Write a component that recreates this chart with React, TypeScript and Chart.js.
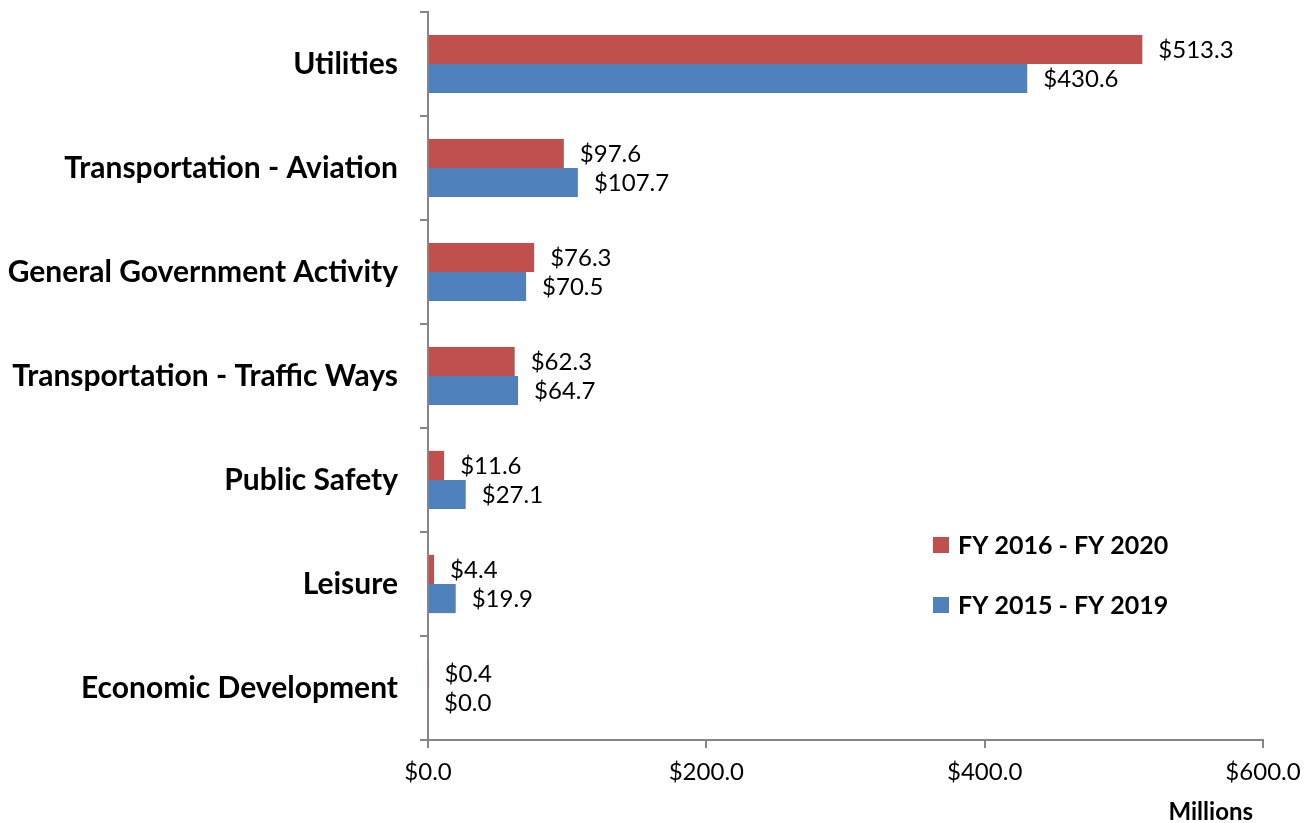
import React, { useEffect, useRef } from "react";
import { Chart, registerables } from "chart.js";

Chart.register(...registerables);

const categories = [
  "Utilities",
  "Transportation - Aviation",
  "General Government Activity",
  "Transportation - Traffic Ways",
  "Public Safety",
  "Leisure",
  "Economic Development",
];
const seriesLabels = ["FY 2016 - FY 2020", "FY 2015 - FY 2019"];
const fy2016_2020 = [513.3, 97.6, 76.3, 62.3, 11.6, 4.4, 0.4];
const fy2015_2019 = [430.6, 107.7, 70.5, 64.7, 27.1, 19.9, 0.0];
const xTicks = [0, 200, 400, 600];
const xAxisTitle = "Millions";

const FONT = "Lato, 'Open Sans', sans-serif";
const AXIS_COLOR = "#868686";

const dataLabelPlugin = {
  id: "dataLabels",
  afterDatasetsDraw(chart: any) {
    const ctx = chart.ctx;
    ctx.save();
    ctx.font = `24px ${FONT}`;
    ctx.fillStyle = "#000";
    ctx.textBaseline = "middle";
    ctx.textAlign = "left";
    chart.data.datasets.forEach((ds: any, di: number) => {
      const meta = chart.getDatasetMeta(di);
      meta.data.forEach((bar: any, i: number) => {
        const v = ds.data[i] as number;
        ctx.fillText("$" + v.toFixed(1), bar.x + 16, bar.y + 1);
      });
    });
    ctx.restore();
  },
};

const legendPlugin = {
  id: "insideLegend",
  afterDraw(chart: any) {
    const ctx = chart.ctx;
    ctx.save();
    ctx.font = `bold 25px ${FONT}`;
    ctx.textBaseline = "middle";
    ctx.textAlign = "left";
    const x = 933;
    const ys = [545, 605];
    chart.data.datasets.forEach((ds: any, i: number) => {
      ctx.fillStyle = ds.backgroundColor;
      ctx.fillRect(x, ys[i] - 8, 16, 16);
      ctx.fillStyle = "#000";
      ctx.fillText(ds.label, x + 25, ys[i] + 1);
    });
    // x-axis title
    ctx.font = `bold 24px ${FONT}`;
    ctx.textAlign = "right";
    ctx.fillText(xAxisTitle, chart.chartArea.right - 10, 812);
    ctx.restore();
  },
};

export default function App() {
  const ref = useRef<HTMLCanvasElement>(null);
  useEffect(() => {
    document.body.style.margin = "0";
    const chart = new Chart(ref.current!, {
      type: "bar",
      data: {
        labels: categories,
        datasets: [
          {
            label: seriesLabels[0],
            data: fy2016_2020,
            backgroundColor: "#C0504D",
            categoryPercentage: 0.56,
            barPercentage: 1.0,
          },
          {
            label: seriesLabels[1],
            data: fy2015_2019,
            backgroundColor: "#4F81BD",
            categoryPercentage: 0.56,
            barPercentage: 1.0,
          },
        ],
      },
      options: {
        indexAxis: "y",
        animation: false,
        responsive: false,
        maintainAspectRatio: false,
        layout: { padding: { top: 12, right: 48, left: 0, bottom: 0 } },
        plugins: {
          legend: { display: false },
          tooltip: { enabled: false },
        },
        scales: {
          y: {
            grid: {
              drawOnChartArea: false,
              tickLength: 8,
              color: AXIS_COLOR,
              lineWidth: 2,
            },
            border: { color: AXIS_COLOR, width: 2 },
            ticks: {
              color: "#000",
              padding: 22,
              font: { family: FONT, size: 30, weight: "bold" },
            },
            afterFit(scale: any) {
              scale.width = 428;
              scale.paddingTop = 0;
              scale.paddingBottom = 0;
            },
          },
          x: {
            min: 0,
            max: 600,
            afterBuildTicks(scale: any) {
              scale.ticks = xTicks.map((v) => ({ value: v }));
            },
            grid: {
              drawOnChartArea: false,
              tickLength: 8,
              color: AXIS_COLOR,
              lineWidth: 2,
            },
            border: { color: AXIS_COLOR, width: 2 },
            ticks: {
              color: "#000",
              padding: 10,
              maxRotation: 0,
              font: { family: FONT, size: 24 },
              callback: (v: any) => "$" + Number(v).toFixed(1),
            },
            afterFit(scale: any) {
              scale.height = 83;
            },
          },
        },
      },
      plugins: [dataLabelPlugin, legendPlugin],
    });
    return () => chart.destroy();
  }, []);
  return (
    <div style={{ width: 1311, height: 823 }}>
      <canvas ref={ref} width={1311} height={823} style={{ display: "block" }} />
    </div>
  );
}
